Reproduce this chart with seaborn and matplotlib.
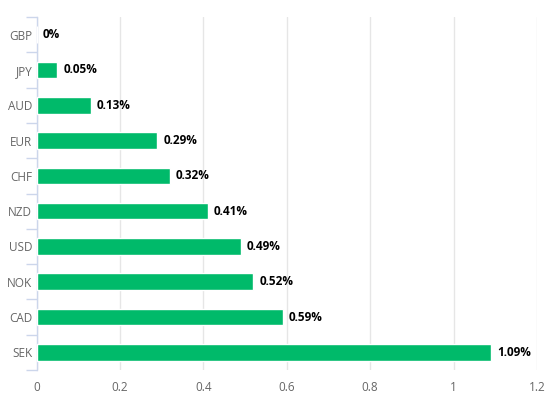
import matplotlib
matplotlib.use('Agg')
import matplotlib.pyplot as plt
import seaborn as sns
import pandas as pd
import numpy as np

currencies = ['GBP', 'JPY', 'AUD', 'EUR', 'CHF', 'NZD', 'USD', 'NOK', 'CAD', 'SEK']
values = [0.0, 0.05, 0.13, 0.29, 0.32, 0.41, 0.49, 0.52, 0.59, 1.09]
labels = ['0%', '0.05%', '0.13%', '0.29%', '0.32%', '0.41%', '0.49%', '0.52%', '0.59%', '1.09%']
xticks = [0, 0.2, 0.4, 0.6, 0.8, 1, 1.2]

df = pd.DataFrame({'currency': currencies, 'value': values})

sns.set_style('white')
plt.rcParams['font.family'] = ['Open Sans', 'DejaVu Sans']

fig = plt.figure(figsize=(5.47, 3.95), dpi=100)
ax = fig.add_axes([36.5 / 547, 25 / 395, 500.5 / 547, 353 / 395])

sns.barplot(data=df, x='value', y='currency', orient='h', color='#00ba6a',
            saturation=1, width=0.47, ax=ax, zorder=3)

ax.set_xlim(0, 1.2)
ax.set_ylim(9.5, -0.5)
ax.set_xticks(xticks)
ax.set_xticklabels(['0', '0.2', '0.4', '0.6', '0.8', '1', '1.2'])
ax.grid(axis='x', color='#e6e6e6', linewidth=1, zorder=0)
ax.set_axisbelow(True)
ax.set_xlabel('')
ax.set_ylabel('')

for s in ['top', 'right', 'bottom']:
    ax.spines[s].set_visible(False)
ax.spines['left'].set_color('#ccd6eb')
ax.spines['left'].set_linewidth(1)

ax.tick_params(axis='x', length=0, labelsize=8.5, labelcolor='#666666', pad=8)
ax.tick_params(axis='y', which='major', left=False, length=0, labelsize=8.5,
               labelcolor='#666666', pad=3)
ax.set_yticks(np.arange(-0.5, 10, 1), minor=True)
ax.tick_params(axis='y', which='minor', left=True, length=8, color='#ccd6eb', width=1)

for i, (v, lab) in enumerate(zip(values, labels)):
    ax.text(v + 0.014, i, lab, va='center', ha='left', fontsize=8.5,
            fontweight='bold', color='black')

fig.savefig('out.png', dpi=100)
